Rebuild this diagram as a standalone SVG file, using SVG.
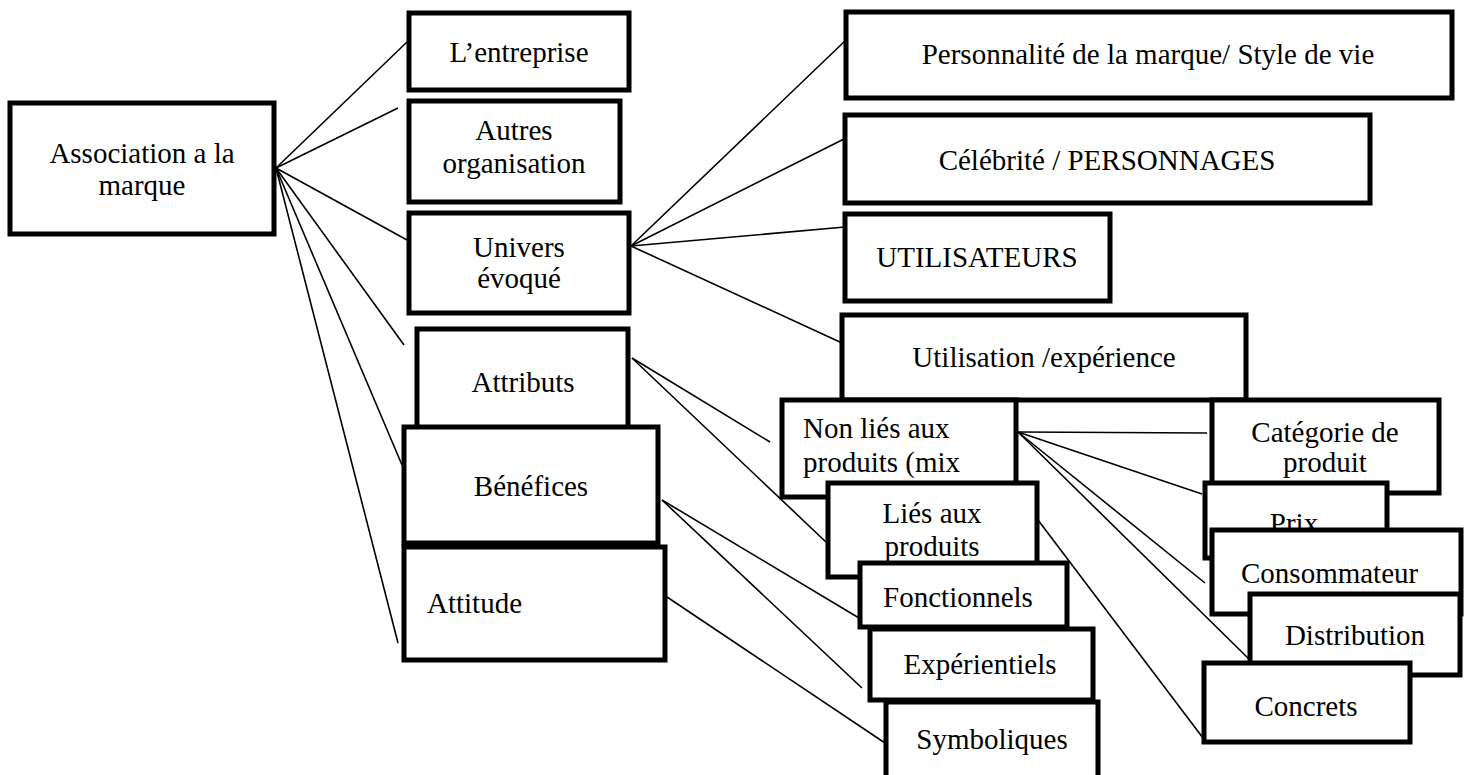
<svg xmlns="http://www.w3.org/2000/svg" width="1467" height="775" viewBox="0 0 1467 775">
  <style>
    .box { fill: #ffffff; stroke: #000000; stroke-width: 5; }
    .lbl { font-family: "Liberation Serif", "Times New Roman", serif; font-size: 29px; fill: #000000; }
    .c { text-anchor: middle; }
    .link { stroke: #000000; stroke-width: 1.6; fill: none; }
  </style>
  <rect x="0" y="0" width="1467" height="775" fill="#ffffff"/>

  <!-- connectors -->
  <g id="connectors" class="link">
    <line x1="276" y1="168" x2="407" y2="42"/>
    <line x1="276" y1="168" x2="398" y2="108"/>
    <line x1="276" y1="168" x2="407" y2="240"/>
    <line x1="276" y1="168" x2="404" y2="345"/>
    <line x1="276" y1="168" x2="402" y2="465"/>
    <line x1="276" y1="168" x2="398" y2="643"/>
    <line x1="631" y1="246" x2="846" y2="40"/>
    <line x1="631" y1="246" x2="846" y2="138"/>
    <line x1="631" y1="246" x2="845" y2="227"/>
    <line x1="631" y1="246" x2="842" y2="343"/>
    <line x1="632" y1="358" x2="770" y2="442"/>
    <line x1="632" y1="358" x2="827" y2="543"/>
    <line x1="662" y1="500" x2="859" y2="618"/>
    <line x1="662" y1="500" x2="862" y2="688"/>
    <line x1="667" y1="597" x2="885" y2="743"/>
    <line x1="1018" y1="432" x2="1207" y2="433"/>
    <line x1="1018" y1="432" x2="1202" y2="494"/>
    <line x1="1018" y1="432" x2="1205" y2="583"/>
    <line x1="1018" y1="432" x2="1250" y2="660"/>
    <line x1="1038" y1="520" x2="1203" y2="738"/>
  </g>

  <!-- root -->
  <g id="association">
    <rect class="box" x="10" y="103" width="264" height="131"/>
    <text class="lbl c" x="142" y="163">Association a la</text>
    <text class="lbl c" x="142" y="195">marque</text>
  </g>

  <!-- first level -->
  <g id="entreprise">
    <rect class="box" x="409" y="13" width="220" height="77"/>
    <text class="lbl c" x="519" y="62">L’entreprise</text>
  </g>
  <g id="autres-organisation">
    <rect class="box" x="409" y="101" width="211" height="101"/>
    <text class="lbl c" x="514" y="140">Autres</text>
    <text class="lbl c" x="514" y="173">organisation</text>
  </g>
  <g id="univers">
    <rect class="box" x="409" y="213" width="220" height="100"/>
    <text class="lbl c" x="519" y="257">Univers</text>
    <text class="lbl c" x="519" y="288">évoqué</text>
  </g>
  <g id="attributs">
    <rect class="box" x="417" y="329" width="211" height="100"/>
    <text class="lbl c" x="523" y="392">Attributs</text>
  </g>
  <g id="benefices">
    <rect class="box" x="404" y="427" width="254" height="116"/>
    <text class="lbl c" x="531" y="496">Bénéfices</text>
  </g>
  <g id="attitude">
    <rect class="box" x="404" y="547" width="261" height="113"/>
    <text class="lbl" x="427" y="613">Attitude</text>
  </g>

  <!-- univers évoqué branch -->
  <g id="personnalite">
    <rect class="box" x="846" y="12" width="606" height="86"/>
    <text class="lbl c" x="1148" y="64">Personnalité de la marque/ Style de vie</text>
  </g>
  <g id="celebrite">
    <rect class="box" x="845" y="115" width="525" height="88"/>
    <text class="lbl c" x="1107" y="170">Célébrité / PERSONNAGES</text>
  </g>
  <g id="utilisateurs">
    <rect class="box" x="845" y="214" width="265" height="87"/>
    <text class="lbl c" x="977" y="267">UTILISATEURS</text>
  </g>
  <g id="utilisation">
    <rect class="box" x="842" y="315" width="404" height="85"/>
    <text class="lbl c" x="1044" y="367">Utilisation /expérience</text>
  </g>

  <!-- attributs branch -->
  <g id="non-lies">
    <rect class="box" x="782" y="400" width="234" height="97"/>
    <text class="lbl" x="803" y="438">Non liés aux</text>
    <text class="lbl" x="803" y="472">produits (mix</text>
  </g>
  <g id="lies">
    <rect class="box" x="828" y="483" width="209" height="94"/>
    <text class="lbl c" x="932" y="523">Liés aux</text>
    <text class="lbl c" x="932" y="556">produits</text>
  </g>

  <!-- bénéfices / attitude branch -->
  <g id="fonctionnels">
    <rect class="box" x="860" y="563" width="207" height="64"/>
    <text class="lbl c" x="958" y="607">Fonctionnels</text>
  </g>
  <g id="experientiels">
    <rect class="box" x="870" y="629" width="223" height="71"/>
    <text class="lbl c" x="980" y="674">Expérientiels</text>
  </g>
  <g id="symboliques">
    <rect class="box" x="886" y="702" width="212" height="90"/>
    <text class="lbl c" x="992" y="749">Symboliques</text>
  </g>

  <!-- non liés aux produits branch -->
  <g id="categorie">
    <rect class="box" x="1212" y="400" width="227" height="93"/>
    <text class="lbl c" x="1325" y="442">Catégorie de</text>
    <text class="lbl c" x="1325" y="472">produit</text>
  </g>
  <g id="prix">
    <rect class="box" x="1205" y="483" width="182" height="75"/>
    <text class="lbl c" x="1294" y="533">Prix</text>
  </g>
  <g id="consommateur">
    <rect class="box" x="1212" y="530" width="249" height="84"/>
    <text class="lbl" x="1241" y="583">Consommateur</text>
  </g>
  <g id="distribution">
    <rect class="box" x="1250" y="594" width="210" height="81"/>
    <text class="lbl c" x="1355" y="645">Distribution</text>
  </g>
  <g id="concrets">
    <rect class="box" x="1204" y="663" width="206" height="79"/>
    <text class="lbl c" x="1306" y="716">Concrets</text>
  </g>
</svg>
